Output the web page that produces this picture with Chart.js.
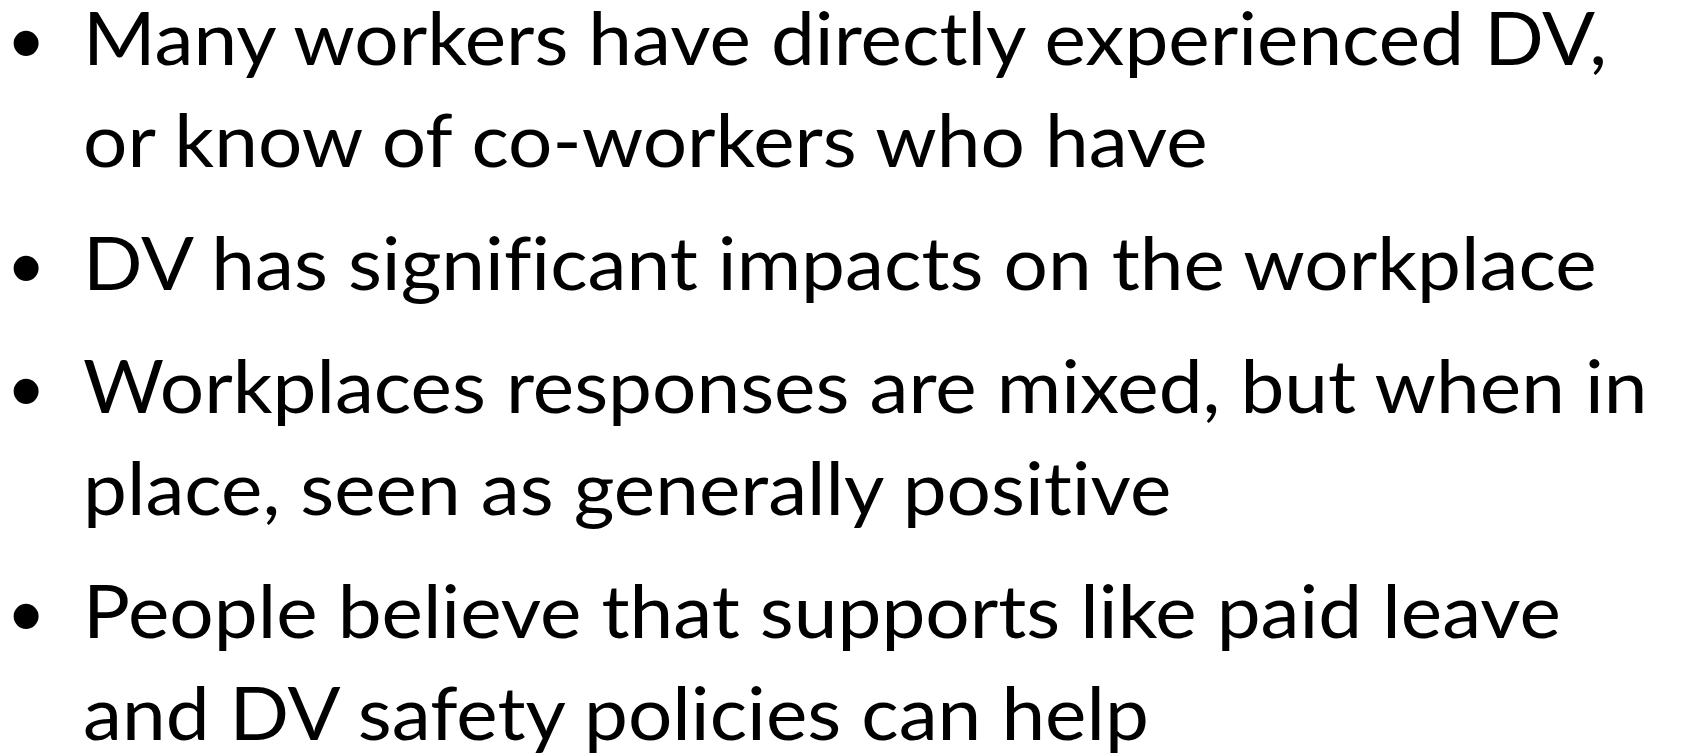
<!DOCTYPE html>
<html>
<head>
<meta charset="utf-8">
<script src="https://cdn.jsdelivr.net/npm/chart.js@4.4.1/dist/chart.umd.min.js"></script>
<style>
html, body { margin: 0; padding: 0; background: #fff; width: 1684px; height: 755px; overflow: hidden; }
#bg { position: absolute; left: 0; top: 0; width: 1684px; height: 755px; }
.line { position: absolute; left: 83px; white-space: nowrap; font-family: Lato, 'Open Sans', sans-serif; font-size: 73px; color: #000; transform-origin: 0 0; font-variant-ligatures: none; font-feature-settings: "liga" 0, "clig" 0; }
.bullet { position: absolute; left: 10px; white-space: nowrap; font-family: 'Liberation Sans', Arial, sans-serif; font-size: 92px; color: #000; }
</style>
</head>
<body>
<canvas id="bg" width="1684" height="755"></canvas>
<div id="slide"></div>
<script>
// bullet texts, one array of wrapped lines per bullet
var bullet1 = ['Many workers have directly experienced DV,', 'or know of co-workers who have'];
var bullet2 = ['DV has significant impacts on the workplace'];
var bullet3 = ['Workplaces responses are mixed, but when in', 'place, seen as generally positive'];
var bullet4 = ['People believe that supports like paid leave', 'and DV safety policies can help'];
var bullets = [bullet1, bullet2, bullet3, bullet4];

// layout
var firstBaseline = 65;
var lineStep = 102;
var paraGap = 21;
var bulletDrop = 9;
var targetWidth = 1524; // width of the first line in the reference

// empty chart layer (slide has no plotted marks)
var ctx = document.getElementById('bg').getContext('2d');
var bgChart = new Chart(ctx, {
    type: 'scatter',
    data: { datasets: [] },
    options: {
        responsive: false,
        animation: false,
        plugins: { legend: { display: false }, tooltip: { enabled: false } },
        scales: { x: { display: false }, y: { display: false } }
    }
});

function baselineOffset(el) {
    var probe = document.createElement('span');
    probe.style.display = 'inline-block';
    probe.style.width = '0';
    probe.style.height = '0';
    probe.style.verticalAlign = 'baseline';
    el.appendChild(probe);
    var off = probe.getBoundingClientRect().top - el.getBoundingClientRect().top;
    el.removeChild(probe);
    return off;
}

function build() {
    var slide = document.getElementById('slide');
    var lineEls = [];
    var y = firstBaseline;
    bullets.forEach(function(lines, b) {
        if (b > 0) y += paraGap;
        var dot = document.createElement('div');
        dot.className = 'bullet';
        dot.textContent = '\u2022';
        slide.appendChild(dot);
        dot.style.top = '0px';
        dot.style.top = (y + bulletDrop - baselineOffset(dot)) + 'px';
        lines.forEach(function(text, i) {
            if (i > 0) y += lineStep;
            var el = document.createElement('div');
            el.className = 'line';
            el.textContent = text;
            slide.appendChild(el);
            el.style.top = '0px';
            el.style.top = (y - baselineOffset(el)) + 'px';
            lineEls.push(el);
        });
        y += lineStep;
    });
    // fit horizontal scale to the reference line width
    var w = lineEls[0].getBoundingClientRect().width;
    var sx = targetWidth / w;
    lineEls.forEach(function(el) { el.style.transform = 'scaleX(' + sx + ')'; });
}

if (document.fonts && document.fonts.load) {
    document.fonts.load('73px Lato').then(build, build);
} else {
    build();
}
</script>
</body>
</html>
